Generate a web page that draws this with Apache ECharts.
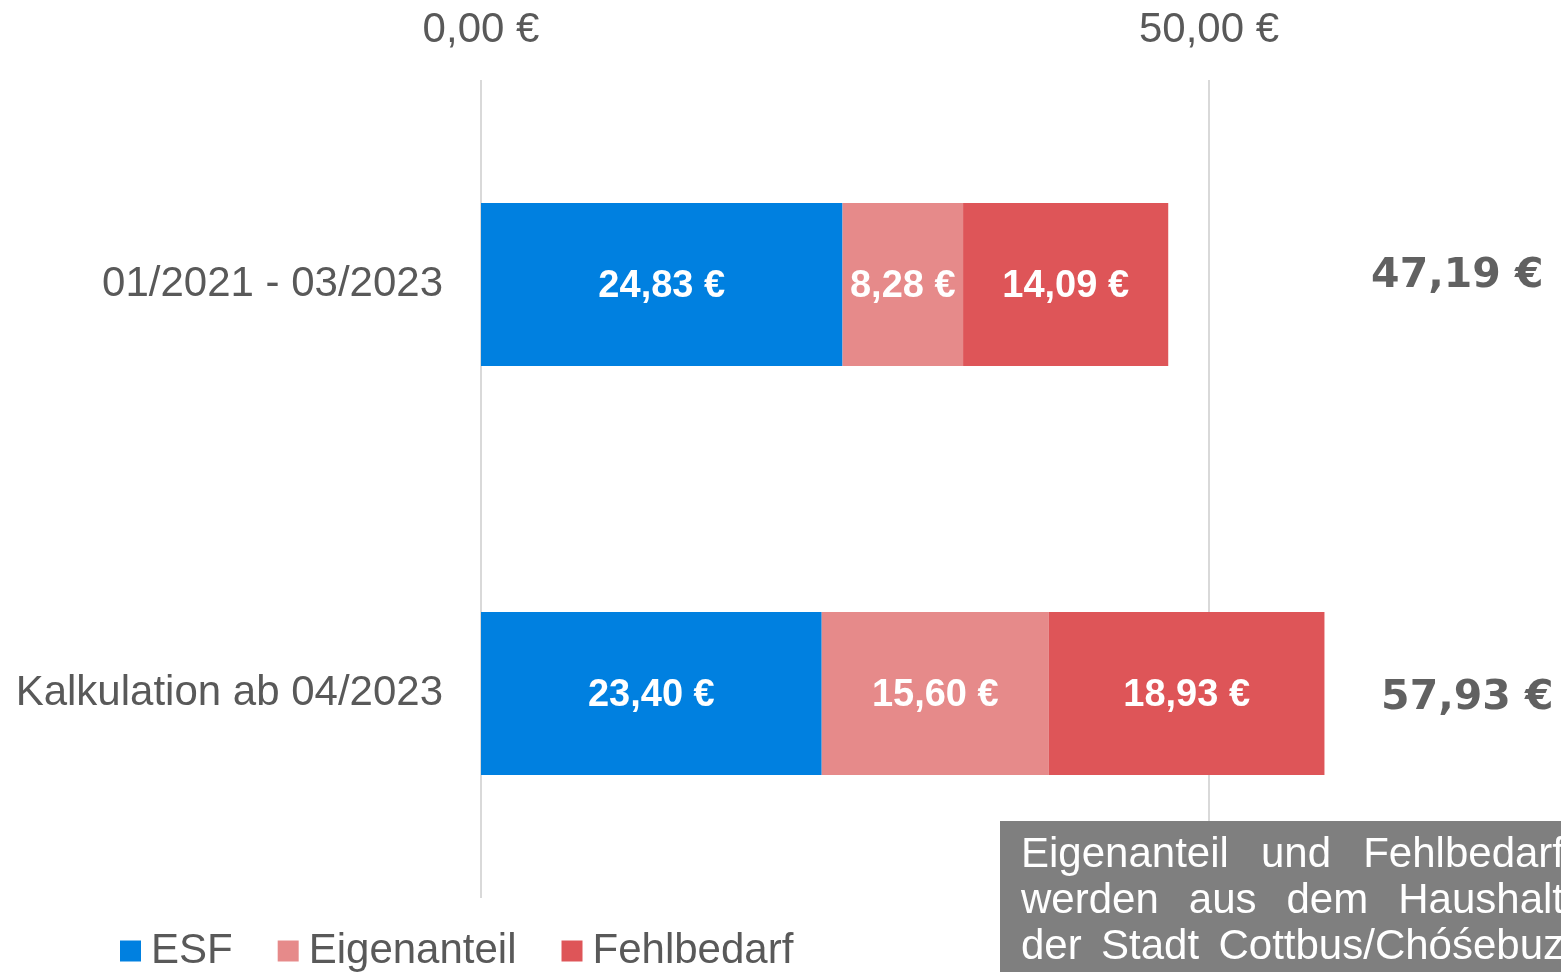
<!DOCTYPE html>
<html>
<head>
<meta charset="utf-8">
<script src="https://cdn.jsdelivr.net/npm/echarts@6/dist/echarts.min.js"></script>
<style>
html,body{margin:0;padding:0;background:#fff;}
#chart{width:1561px;height:972px;}
</style>
</head>
<body>
<div id="chart"></div>
<script>
// ---- data ----
const categories = ['01/2021 - 03/2023', 'Kalkulation ab 04/2023'];
const seriesNames = ['ESF', 'Eigenanteil', 'Fehlbedarf'];
const esf = [24.83, 23.40];
const eigenanteil = [8.28, 15.60];
const fehlbedarf = [14.09, 18.93];
const totals = [47.19, 57.93];
const axisTicks = [0, 50];
const noteLines = [
  'Eigenanteil und Fehlbedarf',
  'werden aus dem Haushalt',
  'der Stadt Cottbus/Chóśebuz'
];

// ---- style ----
const colors = ['#0080E0', '#E68A8A', '#DE5558'];
const FONT = '"Liberation Sans", Arial, sans-serif';
const TEXT_COLOR = '#595959';
const TOTAL_LABEL_X = 67.4; // value-axis position where totals are shown
const TOTAL_LABEL_OFFSETS = [[-5, -8], [5, 5]];

const fmt = v => v.toFixed(2).replace('.', ',') + ' €';

const chart = echarts.init(document.getElementById('chart'), null, {renderer: 'canvas'});

function barSeries(name, data, color) {
  return {
    name: name,
    type: 'bar',
    stack: 'total',
    data: data,
    barWidth: 163,
    itemStyle: {color: color},
    label: {
      show: true,
      position: 'inside',
      offset: [0, 2],
      formatter: p => fmt(p.value),
      color: '#ffffff',
      fontFamily: FONT,
      fontWeight: 'bold',
      fontSize: 38
    },
    emphasis: {disabled: true}
  };
}

// justified note text
const measureCtx = document.createElement('canvas').getContext('2d');
measureCtx.font = '42px "Liberation Sans"';
const NOTE_LEFT = 1021, NOTE_RIGHT = 1564;
const noteGraphics = [];
noteLines.forEach((line, li) => {
  const words = line.split(' ');
  const widths = words.map(w => measureCtx.measureText(w).width);
  const total = widths.reduce((a, b) => a + b, 0);
  const gap = words.length > 1 ? (NOTE_RIGHT - NOTE_LEFT - total) / (words.length - 1) : 0;
  let x = NOTE_LEFT;
  words.forEach((w, wi) => {
    noteGraphics.push({
      type: 'text',
      x: x,
      y: 855 + li * 46,
      z: 101,
      style: {
        text: w,
        fill: '#ffffff',
        font: '42px ' + FONT,
        verticalAlign: 'middle',
        align: 'left'
      }
    });
    x += widths[wi] + gap;
  });
});

const option = {
  animation: false,
  backgroundColor: '#ffffff',
  grid: {left: 481, top: 80, right: -376, bottom: 74, containLabel: false, outerBoundsMode: 'none'},
  xAxis: {
    type: 'value',
    position: 'top',
    min: 0,
    max: 100,
    interval: 50,
    axisLine: {show: false},
    axisTick: {show: false},
    splitLine: {show: true, lineStyle: {color: '#D9D9D9', width: 2}},
    axisLabel: {
      formatter: v => axisTicks.includes(v) ? fmt(v) : '',
      color: TEXT_COLOR,
      fontFamily: FONT,
      fontSize: 42,
      margin: 29
    }
  },
  yAxis: {
    type: 'category',
    inverse: true,
    data: categories,
    axisLine: {show: false},
    axisTick: {show: false},
    axisLabel: {
      color: TEXT_COLOR,
      fontFamily: FONT,
      fontSize: 42,
      margin: 38
    }
  },
  legend: {
    left: 115,
    top: 925,
    icon: 'rect',
    itemWidth: 21,
    itemHeight: 21,
    itemGap: 45,
    data: seriesNames,
    textStyle: {
      color: TEXT_COLOR,
      fontFamily: FONT,
      fontSize: 42,
      padding: [0, 0, 0, 5]
    }
  },
  series: [
    barSeries(seriesNames[0], esf, colors[0]),
    barSeries(seriesNames[1], eigenanteil, colors[1]),
    barSeries(seriesNames[2], fehlbedarf, colors[2]),
    {
      name: 'Summe',
      type: 'scatter',
      symbolSize: 0,
      data: totals.map((t, i) => ({
        value: [TOTAL_LABEL_X, categories[i], t],
        label: {offset: TOTAL_LABEL_OFFSETS[i]}
      })),
      label: {
        show: true,
        position: 'inside',
        formatter: p => fmt(p.value[2]),
        color: '#3A3A3A',
        fontFamily: '"DejaVu Sans", sans-serif',
        fontWeight: 'bold',
        fontSize: 41
      },
      emphasis: {disabled: true},
      silent: true
    }
  ],
  graphic: [
    {
      type: 'rect',
      z: 100,
      shape: {x: 1000, y: 821, width: 600, height: 200},
      style: {fill: '#7F7F7F'}
    }
  ].concat(noteGraphics)
};

chart.setOption(option);
</script>
</body>
</html>
